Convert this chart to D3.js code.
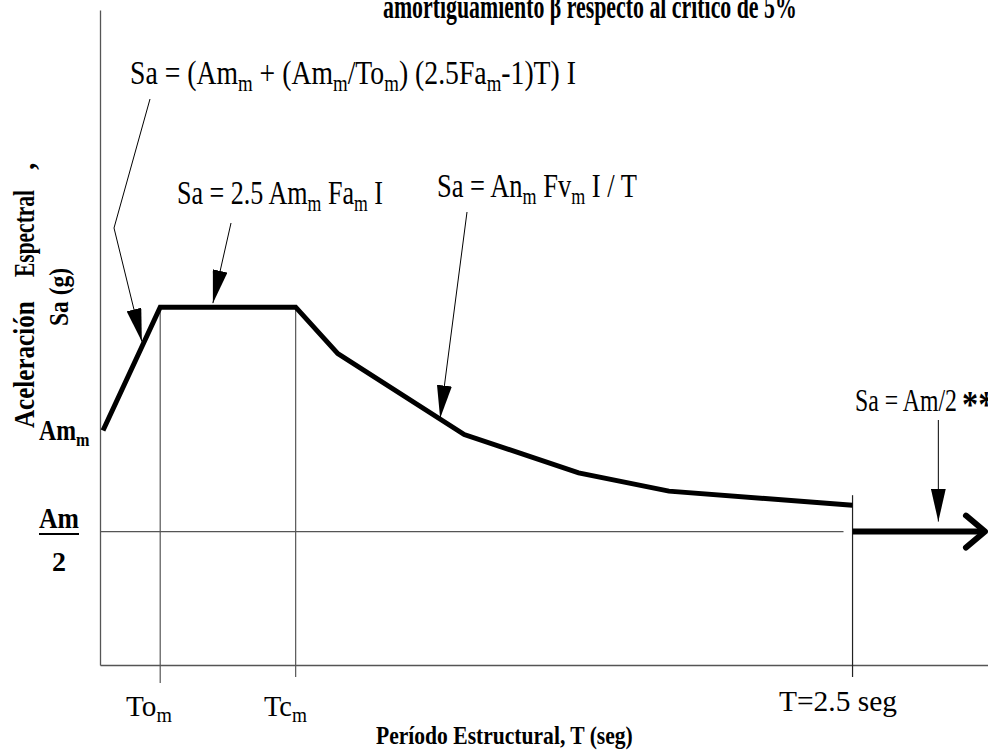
<!DOCTYPE html>
<html>
<head>
<meta charset="utf-8">
<script src="https://cdn.jsdelivr.net/npm/d3@7"></script>
<style>
  body { margin: 0; background: #fff; }
  svg { display: block; font-family: "Liberation Serif", "Times New Roman", serif; }
</style>
</head>
<body>
<div class="chart"></div>
<script>
// spectrum polyline, T in seconds, Sa in units where Am_m = 1
const periods = [0.01, 0.2, 0.65, 0.79, 1.21, 1.59, 1.89, 2.5];
const accel = [1.0, 1.61, 1.61, 1.38, 0.98, 0.79, 0.70, 0.63];

// characteristic periods
const tickPeriods = [0.2, 0.65, 2.5];
const tickNames = [["To", "m"], ["Tc", "m"], ["T=2.5 seg", ""]];

// reference levels
const amLevel = 1.0;
const halfLevel = 0.5;
const tailEnd = 2.94;

const width = 988, height = 753;

const svg = d3
  .select(".chart")
  .append("svg")
  .attr("width", width)
  .attr("height", height);

// scales (schematic, axis origin sits a bit below zero)
const x = d3.scaleLinear().domain([0, 2.95]).range([100, 988]);
const y = d3.scaleLinear().domain([-0.16, 3.08]).range([665, 10]);

// axes, no ticks, just the domain lines
const xAxis = d3.axisBottom(x).tickValues([]).tickSizeOuter(0);
const yAxis = d3.axisLeft(y).tickValues([]).tickSizeOuter(0);

svg.append("g")
  .attr("transform", "translate(0," + y(-0.16) + ")")
  .call(xAxis)
  .select(".domain")
  .attr("stroke", "#555")
  .attr("stroke-width", 1.3);

svg.append("g")
  .attr("transform", "translate(" + x(0) + ",0)")
  .call(yAxis)
  .select(".domain")
  .attr("stroke", "#555")
  .attr("stroke-width", 1.3);

// half level reference line
svg.append("line")
  .attr("x1", x(0)).attr("x2", x(2.47))
  .attr("y1", y(halfLevel)).attr("y2", y(halfLevel))
  .attr("stroke", "#555")
  .attr("stroke-width", 1.2);

// vertical period lines, running past the axis as ticks
const tickTops = [accel[1], accel[2], accel[7] + 0.05];
const tickDrop = [18, 12, 12];
tickPeriods.forEach((t, i) => {
  svg.append("line")
    .attr("x1", x(t)).attr("x2", x(t))
    .attr("y1", y(tickTops[i]))
    .attr("y2", y(-0.16) + tickDrop[i])
    .attr("stroke", i < 2 ? "#555" : "#222")
    .attr("stroke-width", 1.2);
});

// the spectrum
const line = d3.line().x((d, i) => x(periods[i])).y(d => y(d));
svg.append("path")
  .datum(accel)
  .attr("d", line)
  .attr("fill", "none")
  .attr("stroke", "#000")
  .attr("stroke-width", 5)
  .attr("stroke-linejoin", "miter");

// tail at Am/2 with open arrow
svg.append("line")
  .attr("x1", x(2.5)).attr("x2", x(tailEnd))
  .attr("y1", y(halfLevel)).attr("y2", y(halfLevel))
  .attr("stroke", "#000")
  .attr("stroke-width", 6);

svg.append("path")
  .attr("d", d3.line()([
    [x(tailEnd) - 19, y(halfLevel) - 16],
    [x(tailEnd), y(halfLevel)],
    [x(tailEnd) - 19, y(halfLevel) + 16]
  ]))
  .attr("fill", "none")
  .attr("stroke", "#000")
  .attr("stroke-width", 6)
  .attr("stroke-linecap", "round")
  .attr("stroke-linejoin", "round");

// leader arrows with filled heads
const defs = svg.append("defs");
defs.append("marker")
  .attr("id", "head")
  .attr("markerUnits", "userSpaceOnUse")
  .attr("viewBox", "0 0 33 15")
  .attr("refX", 33)
  .attr("refY", 7.5)
  .attr("markerWidth", 33)
  .attr("markerHeight", 15)
  .attr("orient", "auto")
  .append("path")
  .attr("d", "M0,0 L33,7.5 L0,15 Z")
  .attr("fill", "#000");

function leader(points) {
  svg.append("path")
    .attr("d", d3.line()(points))
    .attr("fill", "none")
    .attr("stroke", "#000")
    .attr("stroke-width", 1)
    .attr("marker-end", "url(#head)");
}

leader([[150, 99], [114, 228], [x(0.139), y(1.44)]]);
leader([[231, 223], [x(0.375), y(1.63)]]);
leader([[467, 212], [x(1.13), y(1.06)]]);
leader([[x(2.785), 420], [x(2.785), y(halfLevel) - 10]]);

// text helpers: build tspans with subscripts, then squeeze to a width
function rich(parts, fs, bold) {
  const t = svg.append("text")
    .attr("font-size", fs)
    .attr("font-weight", bold ? "bold" : "normal")
    .attr("fill", "#000");
  let down = false;
  parts.forEach(p => {
    const sub = p.startsWith("_");
    const s = t.append("tspan").text(sub ? p.slice(1) : p);
    if (sub) {
      s.attr("font-size", fs * 0.68).attr("dy", fs * 0.2);
      down = true;
    } else if (down) {
      s.attr("dy", -fs * 0.2);
      down = false;
    }
  });
  return t;
}

function fit(t, px, py, w, rot) {
  const bw = t.node().getBBox().width;
  t.attr("transform",
    "translate(" + px + "," + py + ")" + (rot ? " rotate(-90)" : "") +
    " scale(" + (w / bw) + ",1)");
  return t;
}

// title, cut by the top edge
fit(rich(["amortiguamiento β respecto al crítico de 5%"], 33, true), 383, 18, 414);

// formulas
fit(rich(["Sa = (Am", "_m", " + (Am", "_m", "/To", "_m", ") (2.5Fa", "_m", "-1)T) I"], 33), 130, 84, 446);
fit(rich(["Sa = 2.5 Am", "_m", " Fa", "_m", " I"], 33), 177, 204, 206);
fit(rich(["Sa = An", "_m", " Fv", "_m", " I / T"], 33), 437, 197, 200);
fit(rich(["Sa = Am/2"], 32), 855, 411, 102);
rich(["**"], 38, true).attr("transform", "translate(962,417) scale(0.85,1)");

// y levels
fit(rich(["Am", "_m"], 29, true), 39, 440, 51);
fit(rich(["Am"], 29, true), 39, 528, 40);
svg.append("line")
  .attr("x1", 39).attr("x2", 79)
  .attr("y1", 534).attr("y2", 534)
  .attr("stroke", "#000")
  .attr("stroke-width", 2.2);
fit(rich(["2"], 27, true), 52, 571, 14);

// x tick labels
const labelX = [126, 264, 779];
const labelW = [46, 43, 118];
tickNames.forEach((n, i) => {
  const parts = n[1] ? [n[0], "_" + n[1]] : [n[0]];
  fit(rich(parts, 30), labelX[i], 716 - (i === 2 ? 5 : 0), labelW[i]);
});

// axis titles
fit(rich(["Período Estructural, T (seg)"], 26, true), 376, 744, 257);
fit(rich(["Aceleración"], 30, true), 34, 428, 127, true);
fit(rich(["Espectral"], 30, true), 34, 277, 87, true);
rich([","], 30, true).attr("transform", "translate(34,170) rotate(-90)");
fit(rich(["Sa (g)"], 27, true), 68, 326, 58, true);
</script>
</body>
</html>
